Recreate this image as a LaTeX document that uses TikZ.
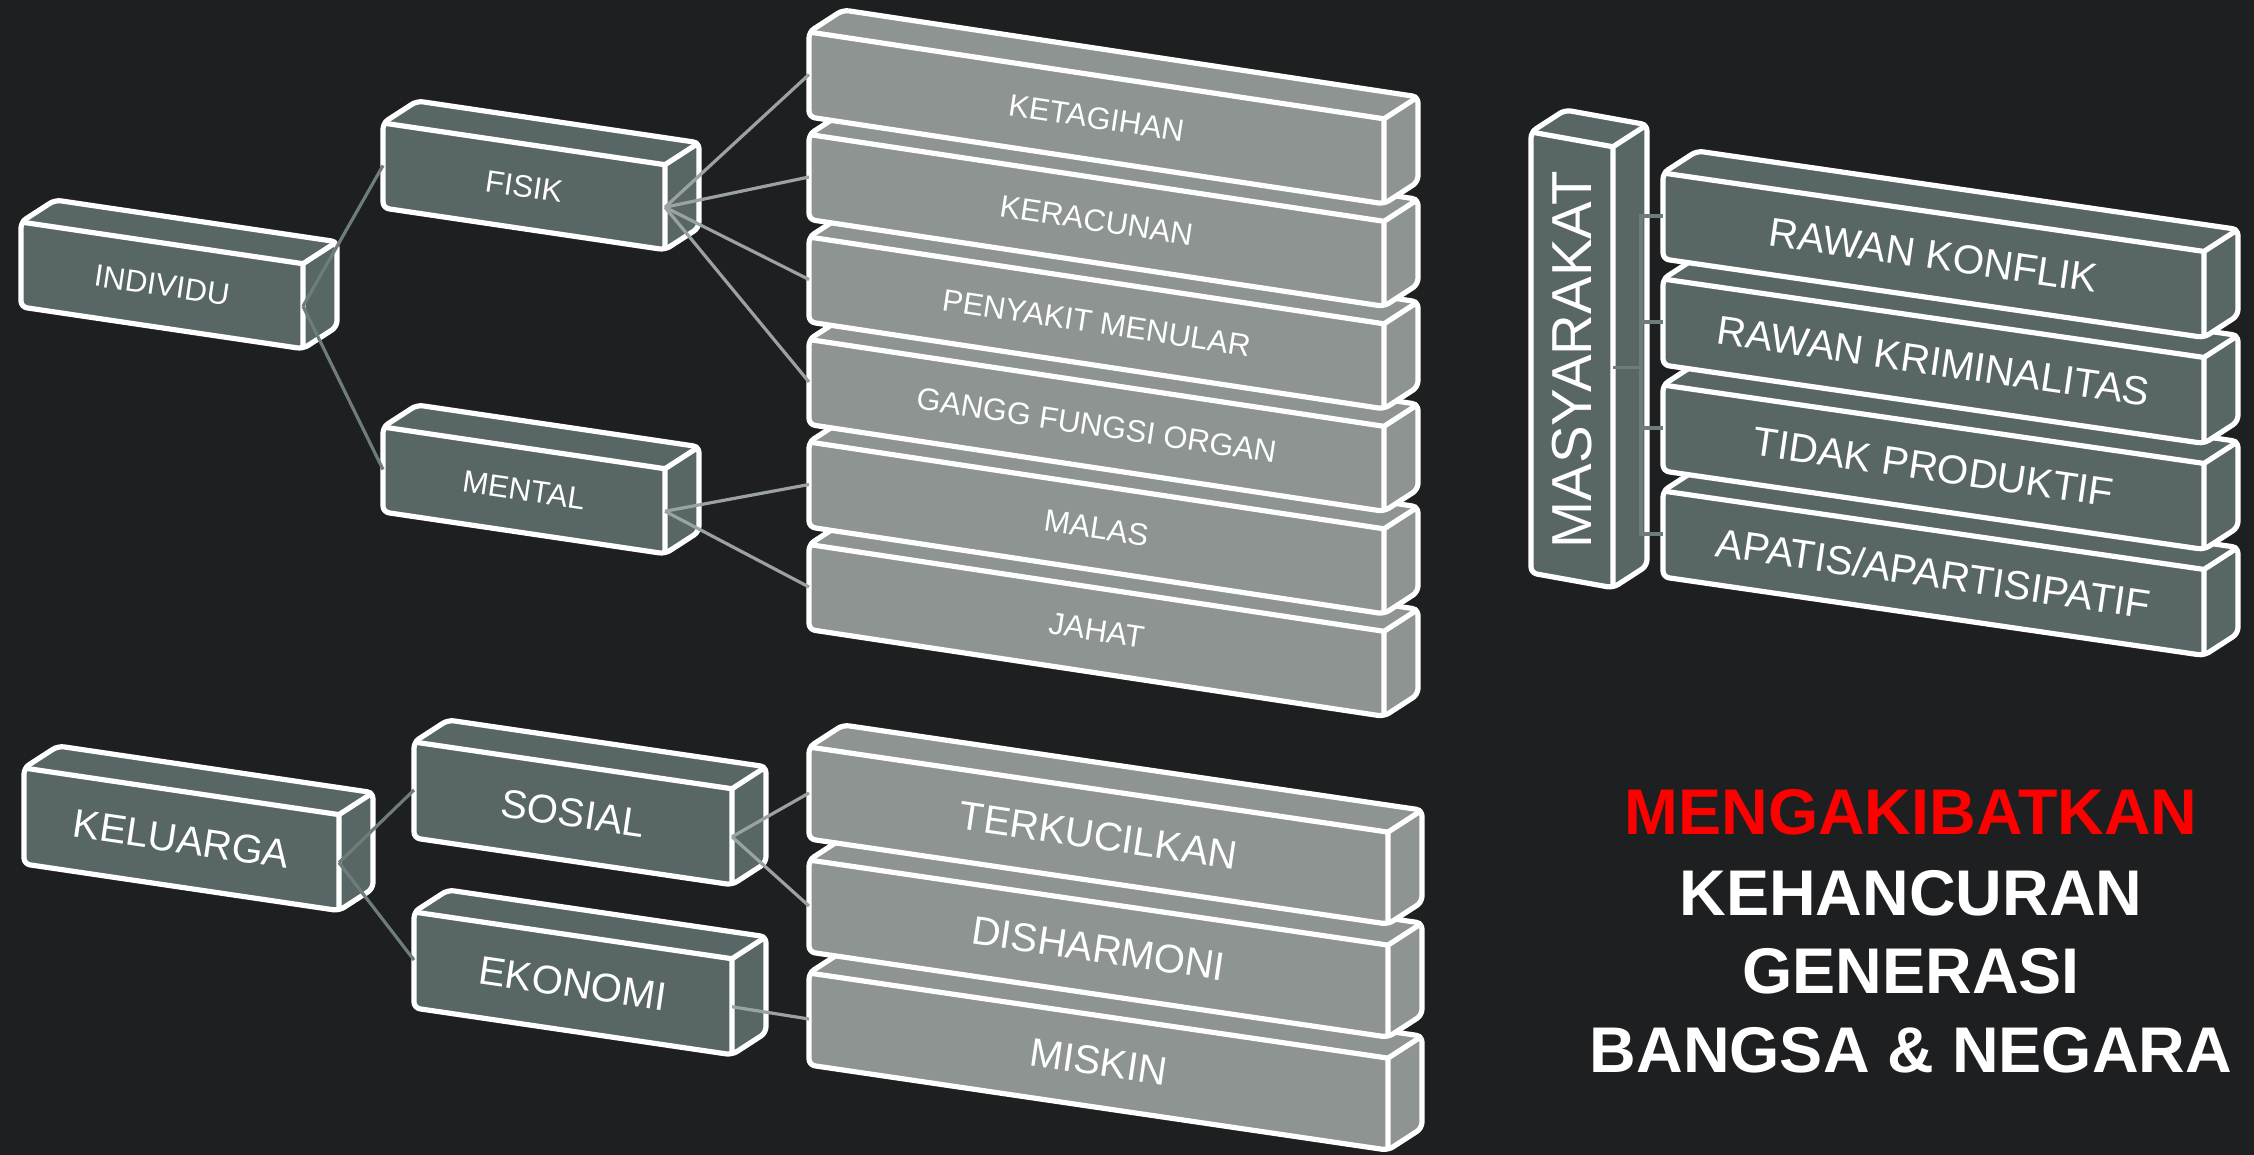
\documentclass[tikz,border=0pt]{standalone}
\usepackage{fontspec}
\setmainfont{Liberation Sans}
\usetikzlibrary{calc}
\definecolor{bgc}{HTML}{1D1F21}
\definecolor{darkbox}{HTML}{586765}
\definecolor{lightbox}{HTML}{8D9492}
\definecolor{conn}{HTML}{6E7D7B}
\definecolor{connlight}{HTML}{9AA3A1}
\definecolor{titlered}{HTML}{FF0000}
\tikzset{
  boxline/.style={draw=white, line width=2.6pt, line join=round},
  boxtext/.style={text=white, inner sep=0pt},
  link/.style={draw=conn, line width=1.6pt},
  linklight/.style={draw=connlight, line width=1.6pt},
  titletext/.style={text=white, inner sep=0pt, font=\fntT},
}
\newcommand{\fntA}{\fontsize{15.5}{18}\selectfont}
\newcommand{\fntB}{\fontsize{20}{24}\selectfont}
\newcommand{\fntC}{\fontsize{20.2}{24}\selectfont}
\newcommand{\fntD}{\fontsize{28.2}{32}\selectfont}
\newcommand{\fntT}{\fontsize{32.3}{38}\selectfont\bfseries}
\newcommand{\dpx}{34}
\newcommand{\dpy}{22}
% #1 name, #2 x, #3 y (front top-left), #4 width, #5 height, #6 slope, #7 fill, #8 node options, #9 text
\newcommand{\cube}[9]{%
  \pgfmathsetmacro{\cubeAng}{-atan(#6)}%
  \coordinate (#1-A) at (#2,#3);
  \coordinate (#1-B) at ({#2+#4},{#3+#4*#6});
  \coordinate (#1-C) at ({#2+#4},{#3+#4*#6+#5});
  \coordinate (#1-D) at (#2,{#3+#5});
  \filldraw[boxline, fill=#7, rounded corners=3pt] (#1-A) -- ($(#1-A)+(\dpx,-\dpy)$) -- ($(#1-B)+(\dpx,-\dpy)$) -- ($(#1-C)+(\dpx,-\dpy)$) -- (#1-C) -- (#1-D) -- cycle;
  \draw[boxline] (#1-A) -- (#1-B) -- (#1-C) (#1-B) -- ($(#1-B)+(\dpx,-\dpy)$);
  \coordinate (#1-l) at ($(#1-A)!0.5!(#1-D)$);
  \coordinate (#1-r) at ($(#1-B)!0.5!(#1-C)$);
  \node[boxtext, rotate=\cubeAng, #8] (#1) at ($(#1-A)!0.5!(#1-C)$) {#9};
}
\begin{document}
\begin{tikzpicture}[x=0.5pt, y=-0.5pt]
\useasboundingbox (0,0) rectangle (2254,1155);
\fill[bgc] (0,0) rectangle (2254,1155);

% ---- upper left group
\cube{ind}{21}{222}{282}{85}{0.148}{darkbox}{font=\fntA}{INDIVIDU}
\cube{fis}{383}{123}{282}{85}{0.148}{darkbox}{font=\fntA}{FISIK}
\cube{men}{383}{427}{282}{85}{0.148}{darkbox}{font=\fntA}{MENTAL}

% ---- upper stack (drawn bottom first)
\cube{jah}{809}{544.5}{575}{85}{0.151}{lightbox}{font=\fntA}{JAHAT}
\cube{mal}{809}{442}{575}{85}{0.151}{lightbox}{font=\fntA}{MALAS}
\cube{gan}{809}{339.5}{575}{85}{0.151}{lightbox}{font=\fntA}{GANGG FUNGSI ORGAN}
\cube{pen}{809}{237}{575}{85}{0.151}{lightbox}{font=\fntA}{PENYAKIT MENULAR}
\cube{rac}{809}{134.5}{575}{85}{0.151}{lightbox}{font=\fntA}{KERACUNAN}
\cube{ket}{809}{32}{575}{85}{0.151}{lightbox}{font=\fntA}{KETAGIHAN}

% ---- masyarakat
\cube{mas}{1531}{132}{82}{441}{0.18}{darkbox}{font=\fntD, rotate=100.2}{MASYARAKAT}
\cube{apa}{1663}{491}{541}{86}{0.145}{darkbox}{font=\fntC}{APATIS/APARTISIPATIF}
\cube{pro}{1663}{385}{541}{86}{0.145}{darkbox}{font=\fntC}{TIDAK PRODUKTIF}
\cube{kri}{1663}{279}{541}{86}{0.145}{darkbox}{font=\fntC}{RAWAN KRIMINALITAS}
\cube{kon}{1663}{173}{541}{86}{0.145}{darkbox}{font=\fntC}{RAWAN KONFLIK}

% ---- lower left group
\cube{kel}{24}{768}{315}{96}{0.148}{darkbox}{font=\fntB}{KELUARGA}
\cube{sos}{414}{742}{318}{96}{0.147}{darkbox}{font=\fntB}{SOSIAL}
\cube{eko}{414}{912}{318}{96}{0.147}{darkbox}{font=\fntB}{EKONOMI}

% ---- lower stack
\cube{mis}{809}{973}{579}{92}{0.147}{lightbox}{font=\fntB}{MISKIN}
\cube{dis}{809}{860}{579}{92}{0.147}{lightbox}{font=\fntB}{DISHARMONI}
\cube{ter}{809}{747}{579}{92}{0.147}{lightbox}{font=\fntB}{TERKUCILKAN}

% ---- connectors
\draw[link] (ind-r) -- (fis-l);
\draw[link] (ind-r) -- (men-l);
\draw[linklight] (fis-r) -- (ket-l);
\draw[linklight] (fis-r) -- (rac-l);
\draw[linklight] (fis-r) -- (pen-l);
\draw[linklight] (fis-r) -- (gan-l);
\draw[linklight] (men-r) -- (mal-l);
\draw[linklight] (men-r) -- (jah-l);
\draw[link] (kel-r) -- (sos-l);
\draw[link] (kel-r) -- (eko-l);
\draw[linklight] (sos-r) -- (ter-l);
\draw[linklight] (sos-r) -- (dis-l);
\draw[linklight] (eko-r) -- (mis-l);
\coordinate (bus) at ($(mas-r)+(28,0)$);
\draw[link] (mas-r) -- (bus);
\draw[link] (kon-l) -| (bus);
\draw[link] (kri-l) -| (bus);
\draw[link] (pro-l) -| (bus);
\draw[link] (apa-l) -| (bus);

% ---- title
\node[titletext, text=titlered] (t1) at (1911,812) {MENGAKIBATKAN};
\node[titletext] (t2) at (1911,893) {KEHANCURAN};
\node[titletext] (t3) at (1911,971) {GENERASI};
\node[titletext] (t4) at (1911,1050) {BANGSA \& NEGARA};
\end{tikzpicture}
\end{document}
